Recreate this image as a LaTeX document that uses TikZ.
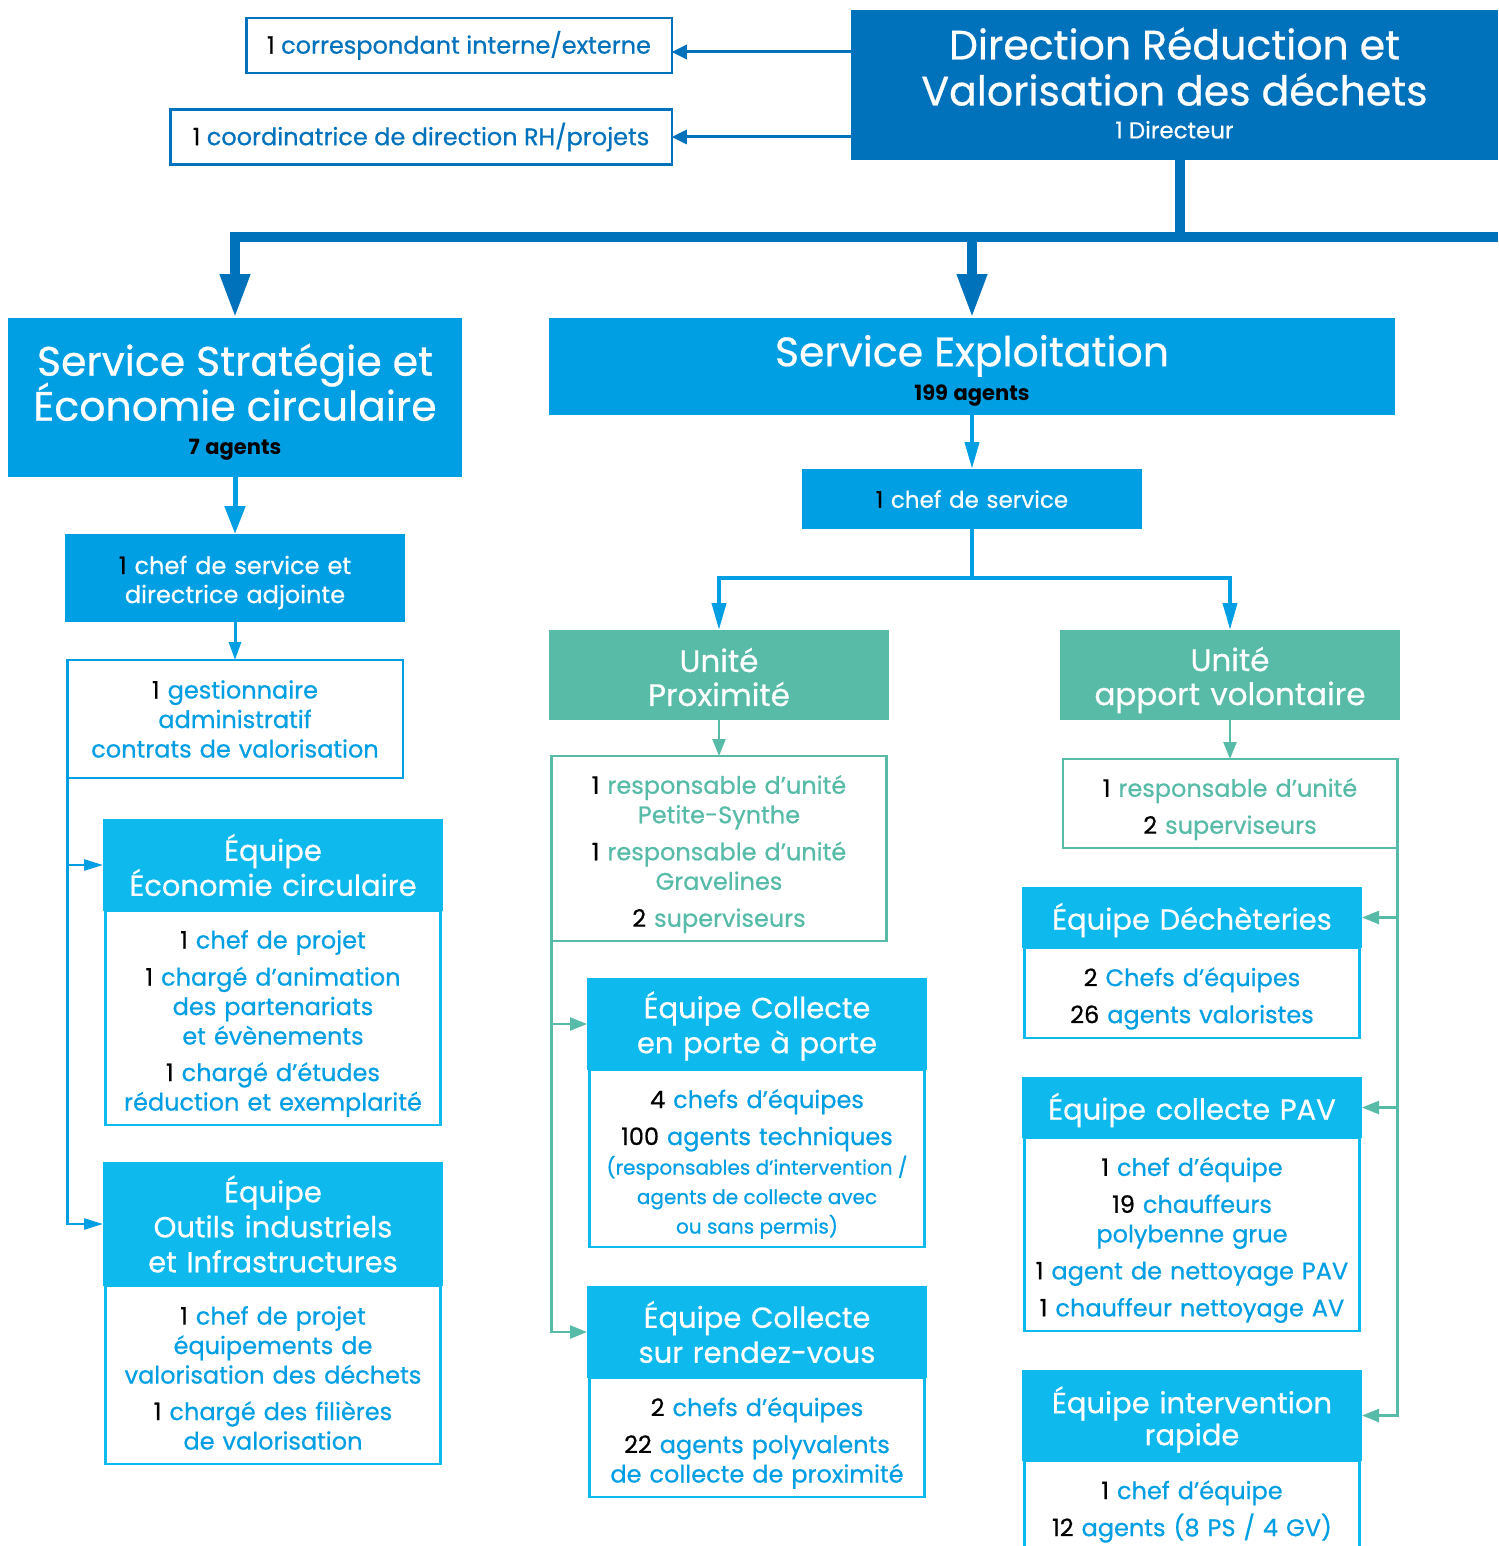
\documentclass[tikz,border=0pt]{standalone}
\usepackage{fontspec}
\setmainfont{Poppins}[UprightFeatures={FakeBold=0.6}]
\usetikzlibrary{arrows.meta,positioning}

\definecolor{dirblue}{RGB}{0,114,188}
\definecolor{servblue}{RGB}{0,159,227}
\definecolor{teamblue}{RGB}{14,185,237}
\definecolor{unitgreen}{RGB}{87,187,168}

\newcommand{\nb}[1]{\textcolor{black}{#1}}
\newcommand{\fs}[2]{\fontsize{#1}{#2}\selectfont\spaceskip=\fontdimen2\font\relax\xspaceskip=\spaceskip\lineskiplimit=-\maxdimen}
\newcommand{\lowerby}[1]{\endgraf\kern-#1\relax}

\begin{document}
\begin{tikzpicture}[x=1pt, y=-1pt,
    box/.style={rectangle, inner sep=0pt, outer sep=0pt, align=center},
    lower/.style={execute at end node={\lowerby{#1}}},
    dirbox/.style={box, fill=dirblue, text=white, minimum width=647pt, minimum height=150pt, text width=640pt},
    topbox/.style={box, draw=dirblue, line width=2.5pt, fill=white, text=dirblue, minimum height=55pt, font=\fs{24}{28}},
    servbox/.style={box, fill=servblue, text=white},
    chefbox/.style={servbox, minimum width=340pt, text width=336pt, font=\fs{24}{29}},
    gestbox/.style={box, draw=servblue, line width=2.5pt, fill=white, text=servblue, minimum width=335.5pt, minimum height=118pt, text width=330pt, font=\fs{24}{29.5}},
    unitbox/.style={box, fill=unitgreen, text=white, minimum width=340pt, minimum height=90pt, text width=336pt, font=\fs{31}{34}},
    unitbody/.style={box, draw=unitgreen, line width=2.5pt, fill=white, text=unitgreen, minimum width=335pt, text width=330pt, font=\fs{24}{29.5}, lower=11pt},
    teamhead/.style={box, fill=teamblue, text=white, minimum width=340pt, text width=336pt, font=\fs{29}{35}},
    teambody/.style={box, draw=teamblue, line width=2.5pt, fill=white, text=servblue, minimum width=335pt, text width=330pt, font=\fs{24}{29.5}, lower=11pt},
    bigline/.style={draw=dirblue, line width=10pt},
    bigarrow/.style={bigline, -{Triangle[width=28pt,length=44pt]}},
    dirarrow/.style={draw=dirblue, line width=3pt, -{Triangle[width=14pt,length=15pt]}},
    midarrow/.style={draw=servblue, line width=5pt, -{Triangle[width=20pt,length=28pt]}},
    forkline/.style={draw=servblue, line width=4pt},
    forkarrow/.style={forkline, -{Triangle[width=14pt,length=27pt]}},
    thinarrow/.style={draw=servblue, line width=3pt, -{Triangle[width=12pt,length=18pt]}},
    sidearrow/.style={draw=servblue, line width=2.5pt, -{Triangle[width=11pt,length=19pt]}},
    tealarrow/.style={draw=unitgreen, line width=2.5pt, -{Triangle[width=13pt,length=17pt]}}]

  \path[use as bounding box] (0,0) rectangle (1498,1546);
  \clip (0,0) rectangle (1498,1546);

  % direction
  \node[dirbox, lower=-4pt] (dir) at (1174.5,85) {{\fs{41}{46}Direction Réduction et\\Valorisation des déchets\par}{\fs{23}{33}1 Directeur\par}};
  \node[topbox, minimum width=425.5pt] (corr) at (459,45.5) {\nb{1} correspondant interne/externe};
  \node[topbox, minimum width=501.5pt] (coord) at (421,137) {\nb{1} coordinatrice de direction RH/projets};

  % services
  \node[servbox, minimum width=454pt, minimum height=159pt, text width=450pt, lower=9pt] (strat) at (235,397.5)
    {{\fs{41}{45}Service Stratégie et\\Économie circulaire\par}{\fs{21}{34}\bfseries\color{black}7 agents\par}};
  \node[servbox, minimum width=846pt, minimum height=97pt, text width=840pt, lower=8pt] (expl) at (972,366.5)
    {{\fs{41}{45}Service Exploitation\par}{\fs{21}{34}\bfseries\color{black}199 agents\par}};

  % strategie
  \node[chefbox, minimum height=88pt, lower=9pt, below=57pt of strat] (chefsc) {\nb{1} chef de service et\\directrice adjointe};
  \node[gestbox, below=38pt of chefsc] (gest) {\nb{1} gestionnaire\\administratif\\contrats de valorisation};
  \node[teamhead, minimum height=92pt] (eco) at (273,865) {Équipe\\Économie circulaire};
  \node[teambody, minimum height=214pt, below=0pt of eco] (ecobody)
    {\nb{1} chef de projet\\[7.5pt]\nb{1} chargé d’animation\\des partenariats\\et évènements\\[7pt]\nb{1} chargé d’études\\réduction et exemplarité};
  \node[teamhead, minimum height=124pt, below=37pt of ecobody] (outils) {Équipe\\Outils industriels\\et Infrastructures};
  \node[teambody, minimum height=178pt, lower=-5pt, below=0pt of outils] (outilsbody)
    {\nb{1} chef de projet\\équipements de\\valorisation des déchets\\[7pt]\nb{1} chargé des filières\\de valorisation};

  % exploitation
  \node[chefbox, minimum height=60pt, font=\fs{23}{28}, lower=3pt, below=54pt of expl] (chefexp) {\nb{1} chef de service};
  \node[unitbox, lower=4pt] (prox) at (719,675) {Unité\\Proximité};
  \node[unitbox, lower=10pt] (av) at (1230,675) {Unité\\apport volontaire};
  \node[unitbody, minimum height=185pt, below=36pt of prox] (proxbody)
    {\nb{1} responsable d’unité\\Petite-Synthe\\[7.5pt]\nb{1} responsable d’unité\\Gravelines\\[7.5pt]\nb{2} superviseurs};
  \node[unitbody, minimum width=334.5pt, minimum height=89pt, below=39pt of av] (avbody)
    {\nb{1} responsable d’unité\\[7.5pt]\nb{2} superviseurs};

  \node[teamhead, minimum height=92pt, lower=4pt] (pap) at (757,1024) {Équipe Collecte\\en porte à porte};
  \node[teambody, minimum height=177pt, below=0pt of pap] (papbody)
    {\nb{4} chefs d’équipes\\[7.5pt]\nb{100} agents techniques\\{\fs{20}{29.5}(responsables d’intervention /\\agents de collecte avec\\ou sans permis)}};
  \node[teamhead, minimum height=92pt, below=39pt of papbody] (rdv) {Équipe Collecte\\sur rendez-vous};
  \node[teambody, minimum height=119pt, below=0pt of rdv] (rdvbody)
    {\nb{2} chefs d’équipes\\[7.5pt]\nb{22} agents polyvalents\\de collecte de proximité};

  \node[teamhead, minimum height=61pt, lower=5pt] (dech) at (1192,917.5) {Équipe Déchèteries};
  \node[teambody, minimum height=90pt, below=0pt of dech] (dechbody)
    {\nb{2} Chefs d’équipes\\[7.5pt]\nb{26} agents valoristes};
  \node[teamhead, minimum height=61pt, lower=5pt, below=39pt of dechbody] (pav) {Équipe collecte PAV};
  \node[teambody, minimum height=193pt, below=0pt of pav] (pavbody)
    {\nb{1} chef d’équipe\\[7.5pt]\nb{19} chauffeurs\\polybenne grue\\[7.5pt]\nb{1} agent de nettoyage PAV\\[7.5pt]\nb{1} chauffeur nettoyage AV};
  \node[teamhead, minimum height=91pt, font=\fs{29}{32}, lower=8pt, below=39pt of pavbody] (inter) {Équipe intervention\\rapide};
  \node[teambody, minimum height=90pt, below=0pt of inter] (interbody)
    {\nb{1} chef d’équipe\\[7.5pt]\nb{12} agents (8 PS / 4 GV)};

  % connectors
  \coordinate (corrin) at ([yshift=-6.5pt]corr.east);
  \draw[dirarrow] (dir.west |- corrin) -- (corrin);
  \draw[dirarrow] (dir.west |- coord.east) -- (coord.east);

  \coordinate (barR) at (1498,237);
  \coordinate (trunk) at ([xshift=5.5pt]dir.south);
  \draw[bigline] (trunk) -- (trunk |- barR);
  \draw[bigarrow] (barR) -| (strat.north);
  \draw[bigarrow] (expl.north |- barR) -- (expl.north);

  \draw[midarrow] (strat.south) -- (chefsc.north);
  \draw[thinarrow] (chefsc.south) -- (gest.north);
  \draw[sidearrow] (gest.south west) |- (eco.west);
  \draw[sidearrow] (gest.south west) |- (outils.west);

  \draw[forkarrow] (expl.south) -- (chefexp.north);
  \coordinate (fork) at (972,578);
  \draw[forkline] (chefexp.south) -- (fork);
  \draw[forkarrow] (fork) -| (prox.north);
  \draw[forkarrow] (fork) -| (av.north);

  \draw[tealarrow] (prox.south) -- (proxbody.north);
  \draw[tealarrow] (av.south) -- (avbody.north);
  \draw[tealarrow] (proxbody.south west) |- (pap.west);
  \draw[tealarrow] (proxbody.south west) |- (rdv.west);
  \draw[tealarrow] (avbody.south east) |- (dech.east);
  \draw[tealarrow] (avbody.south east) |- (pav.east);
  \draw[tealarrow] (avbody.south east) |- (inter.east);
\end{tikzpicture}
\end{document}
